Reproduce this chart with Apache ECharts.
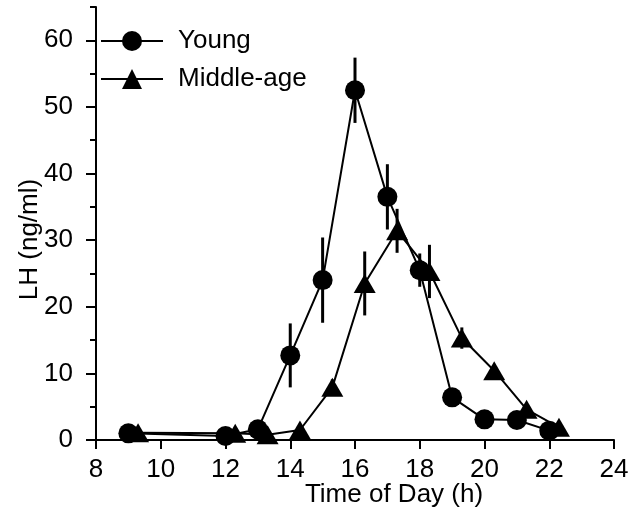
<!DOCTYPE html>
<html>
<head>
<meta charset="utf-8">
<script src="https://cdn.jsdelivr.net/npm/echarts@6/dist/echarts.min.js"></script>
<style>html,body{margin:0;padding:0;background:#fff}#c{width:634px;height:527px}</style>
</head>
<body>
<div id="c"></div>
<script>
var xYoung = [9, 12, 13, 14, 15, 16, 17, 18, 19, 20, 21, 22];
var yYoung = [1.0, 0.6, 1.6, 12.7, 24.0, 52.5, 36.5, 25.5, 6.4, 3.1, 3.0, 1.4];
var errYoung = [0.3, 0.3, 0.5, 4.8, 6.4, 4.9, 4.9, 2.5, 0.8, 0.5, 0.6, 0.5];
var xMid = [9.3, 12.3, 13.3, 14.3, 15.3, 16.3, 17.3, 18.3, 19.3, 20.3, 21.3, 22.3];
var yMid = [1.1, 1.0, 0.8, 1.5, 7.9, 23.5, 31.4, 25.3, 15.3, 10.4, 4.6, 1.9];
var errMid = [0.2, 0.2, 0.2, 0.3, 1.2, 4.8, 3.3, 4.0, 1.6, 0.8, 0.6, 0.4];
var xTicks = [8, 10, 12, 14, 16, 18, 20, 22, 24];
var yTicks = [0, 10, 20, 30, 40, 50, 60];
var yMinorTicks = [5, 15, 25, 35, 45, 55, 65];

function pairs(xs, ys) { return xs.map(function (x, i) { return [x, ys[i]]; }); }
function errs(xs, ys, es) { return xs.map(function (x, i) { return [x, ys[i] - es[i], ys[i] + es[i]]; }); }

function errRender(params, api) {
  var p0 = api.coord([api.value(0), api.value(1)]);
  var p1 = api.coord([api.value(0), api.value(2)]);
  return { type: 'line', shape: { x1: p0[0], y1: p0[1], x2: p1[0], y2: p1[1] },
           style: { stroke: '#000', lineWidth: 3 } };
}

var font = 'Liberation Sans, Arial, Helvetica, sans-serif';
var chart = echarts.init(document.getElementById('c'), null, { renderer: 'canvas' });
chart.setOption({
  animation: false,
  backgroundColor: '#fff',
  grid: { left: 96, right: 20, top: 7, bottom: 87, containLabel: false },
  legend: {
    left: 100, top: 28, orient: 'vertical', itemWidth: 62, itemHeight: 25, itemGap: 12, padding: 0,
    data: ['Young', 'Middle-age'],
    textStyle: { fontFamily: font, fontSize: 26, color: '#000', padding: [0, 0, 0, 10] }
  },
  xAxis: {
    type: 'value', min: 8, max: 24, interval: 2,
    name: 'Time of Day (h)', nameLocation: 'middle', nameGap: 42, nameMoveOverlap: false,
    nameTextStyle: { fontFamily: font, fontSize: 26, color: '#000', padding: [0, 0, 0, 78] },
    axisLine: { lineStyle: { color: '#000', width: 2 } },
    axisTick: { length: 9, lineStyle: { color: '#000', width: 2 }, customValues: xTicks },
    axisLabel: { fontFamily: font, fontSize: 26, color: '#000', margin: 17, customValues: xTicks },
    splitLine: { show: false }
  },
  yAxis: [{
    type: 'value', min: 0, max: 65,
    name: 'LH (ng/ml)', nameLocation: 'middle', nameGap: 53, nameRotate: 90, nameMoveOverlap: false,
    nameTextStyle: { fontFamily: font, fontSize: 26, color: '#000', padding: [0, 32, 0, 0] },
    axisLine: { lineStyle: { color: '#000', width: 2 } },
    axisTick: { length: 10, lineStyle: { color: '#000', width: 2 }, customValues: yTicks },
    axisLabel: { fontFamily: font, fontSize: 26, color: '#000', margin: 23, customValues: yTicks },
    splitLine: { show: false }
  }, {
    type: 'value', min: 0, max: 65, position: 'left',
    axisLine: { show: false },
    axisTick: { length: 6, lineStyle: { color: '#000', width: 2 }, customValues: yMinorTicks },
    axisLabel: { show: false },
    splitLine: { show: false }
  }],
  series: [
    { type: 'custom', name: 'errY', renderItem: errRender, data: errs(xYoung, yYoung, errYoung), z: 1, silent: true },
    { type: 'custom', name: 'errM', renderItem: errRender, data: errs(xMid, yMid, errMid), z: 1, silent: true },
    { type: 'line', name: 'Middle-age', data: pairs(xMid, yMid), symbol: 'triangle', symbolSize: [22, 19],
      itemStyle: { color: '#000' }, lineStyle: { color: '#000', width: 2 }, z: 3 },
    { type: 'line', name: 'Young', data: pairs(xYoung, yYoung), symbol: 'circle', symbolSize: 20,
      itemStyle: { color: '#000' }, lineStyle: { color: '#000', width: 2 }, z: 4 }
  ]
});
</script>
</body>
</html>
